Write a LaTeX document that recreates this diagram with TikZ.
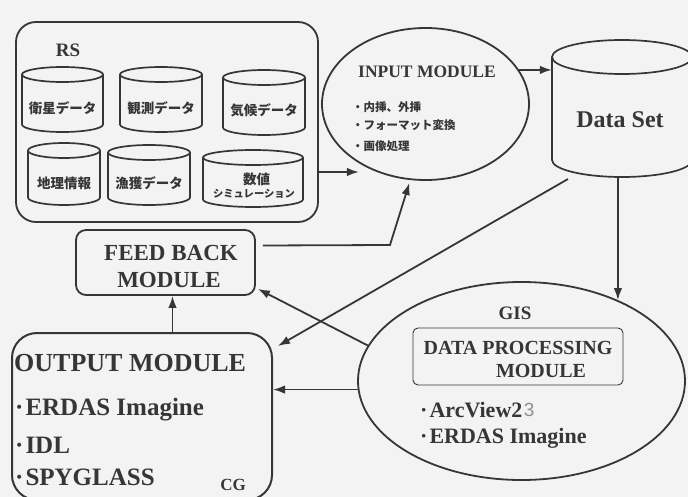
\documentclass[tikz,border=0pt]{standalone}
\usepackage{fontspec}
\setmainfont{Liberation Serif}
\newfontfamily\jp{Noto Sans CJK JP}
\newfontfamily\hand{Liberation Sans}
\usetikzlibrary{arrows.meta,shapes.geometric,calc}
\definecolor{ink}{HTML}{363636}
\definecolor{bg}{HTML}{F3F3F3}
\newcommand\fsz[1]{\fontsize{#1}{#1}\selectfont}
\newcommand\dbcyl[6]{%
  \draw[cylline] ({#2-#5},{#3+#6}) -- ({#2-#5},{#4-#6})
     arc[start angle=180,end angle=0,x radius=#5,y radius=#6] -- ({#2+#5},{#3+#6});
  \draw[cylline] (#2,{#3+#6}) ellipse[x radius=#5,y radius=#6];
  \node[inner sep=0pt, minimum width={2*#5*1pt}, minimum height={(#4-#3)*1pt}] (#1) at (#2,{(#3+#4)/2}) {};
}
\tikzset{
  cylline/.style={draw=ink, line width=1.7pt},
  box/.style={draw=ink, line width=1.8pt, inner sep=0pt},
  arr/.style={draw=ink, line width=1.8pt, -{Latex[length=12pt,width=8.5pt]}},
  en/.style={text=ink, inner sep=0pt},
  jt/.style={text=ink, inner sep=0pt},
}
\begin{document}
\begin{tikzpicture}[x=1pt,y=-1pt]
\useasboundingbox (0,0) rectangle (688,497);
\fill[bg] (0,0) rectangle (688,497);
\clip (0,0) rectangle (688,497);

% RS box
\node[box, rounded corners=20pt, minimum width=302pt, minimum height=200pt] (rs) at (167,122) {};
\node[en, font={\bfseries\fsz{19}}] (rslbl) at (68,50) {RS};

\dbcyl{c1}{62.5}{67}{132}{40.5}{7.5}
\dbcyl{c2}{161}{67}{132}{41}{7.5}
\dbcyl{c3}{264}{70}{135}{41}{7.5}
\dbcyl{c4}{64}{143}{205}{36}{7.5}
\dbcyl{c5}{149}{145}{205}{41}{7.5}
\dbcyl{c6}{253}{150}{207}{50}{7.5}
\node[jt, font={\jp\bfseries\fsz{13.5}}] (t1) at (62.5,108) {衛星データ};
\node[jt, font={\jp\bfseries\fsz{13.5}}] (t2) at (161,108) {観測データ};
\node[jt, font={\jp\bfseries\fsz{13.5}}] (t3) at (264,110) {気候データ};
\node[jt, font={\jp\bfseries\fsz{13.5}}] (t4) at (64,183) {地理情報};
\node[jt, font={\jp\bfseries\fsz{13.5}}] (t5) at (149,183) {漁獲データ};
\node[jt, font={\jp\bfseries\fsz{13.5}}] (t6a) at (256.5,179) {数値};
\node[jt, font={\jp\bfseries\fsz{10.3}}] (t6b) at (254,194) {シミュレーション};

% INPUT MODULE
\node[box, ellipse, minimum width=207pt, minimum height=152pt] (inp) at (425.5,104) {};
\node[en, font={\bfseries\fsz{17.5}}] (inpt) at (427,72) {INPUT MODULE};
\node[jt, anchor=west, font={\jp\bfseries\fsz{11.5}}] (i1) at (352,107) {・内挿、外挿};
\node[jt, anchor=west, font={\jp\bfseries\fsz{11.5}}] (i2) at (352,125) {・フォーマット変換};
\node[jt, anchor=west, font={\jp\bfseries\fsz{11.5}}] (i3) at (352,146) {・画像処理};

% Data Set
\dbcyl{ds}{622}{40}{177}{70}{17}
\node[en, font={\bfseries\fsz{24}}] (dst) at (620,120) {Data Set};

% GIS
\node[box, ellipse, minimum width=327pt, minimum height=198pt] (gis) at (521.5,381) {};
\node[en, font={\bfseries\fsz{19}}] (gist) at (515,313) {GIS};
\node[draw=ink, line width=0.9pt, rounded corners=5pt, minimum width=210pt, minimum height=57pt, inner sep=0pt] (dpm) at (518,356.5) {};
\node[en, font={\bfseries\fsz{20}}] (dpm1) at (518,348) {DATA PROCESSING};
\node[en, font={\bfseries\fsz{20}}] (dpm2) at (541,371) {MODULE};
\node[en, anchor=west, font={\bfseries\fsz{22}}] (g1) at (420,410) {·\hspace{2pt}ArcView2};
\node[text=ink!55, anchor=west, inner sep=0pt, font={\hand\fsz{19}}] (g1h) at (g1.east) {\hspace{1pt}3};
\node[en, anchor=west, font={\bfseries\fsz{22}}] (g2) at (420,438) {·\hspace{2pt}ERDAS Imagine};

% FEED BACK
\node[box, rounded corners=10pt, minimum width=179pt, minimum height=65pt] (fb) at (165.5,262.5) {};
\node[en, font={\bfseries\fsz{23}}] (fb1) at (171,253) {FEED BACK};
\node[en, font={\bfseries\fsz{23}}] (fb2) at (169,280) {MODULE};

% OUTPUT
\node[box, line width=2pt, rounded corners=25pt, minimum width=260pt, minimum height=167pt] (out) at (142,416.5) {};
\node[en, anchor=west, font={\bfseries\fsz{26}}] (o0) at (14,363) {OUTPUT MODULE};
\node[en, anchor=west, font={\bfseries\fsz{25}}] (o1) at (15,410) {·\hspace{2pt}ERDAS Imagine};
\node[en, anchor=west, font={\bfseries\fsz{25}}] (o2) at (15,445) {·\hspace{2pt}IDL};
\node[en, anchor=west, font={\bfseries\fsz{25}}] (o3) at (15,477) {·\hspace{2pt}SPYGLASS};
\node[en, font={\bfseries\fsz{17}}] (cg) at (233,485) {CG};

% connectors
\draw[arr] ([shift={(0,50)}]rs.east) -- ++(40,0);
\draw[arr] (inp.20) -- (inp.20 -| ds.west);
\draw[arr] (gis.40 |- ds.south) -- (gis.40);
\coordinate (dsout) at (568,179);
\draw[arr] (dsout) -- ([shift={(5,14)}]out.north east);
\draw[arr] (gis.183) -- (gis.183 -| out.east);
\draw[arr] (gis.167) -- ([shift={(2,-7)}]fb.south east);
\draw[arr] ([xshift=7pt]fb.south |- out.north) -- ([xshift=7pt]fb.south);
\coordinate (fbk) at (390,245);
\draw[arr] ([shift={(7,-17)}]fb.east) -- (fbk) -- ([shift={(0,3)}]inp.258);
\end{tikzpicture}
\end{document}
